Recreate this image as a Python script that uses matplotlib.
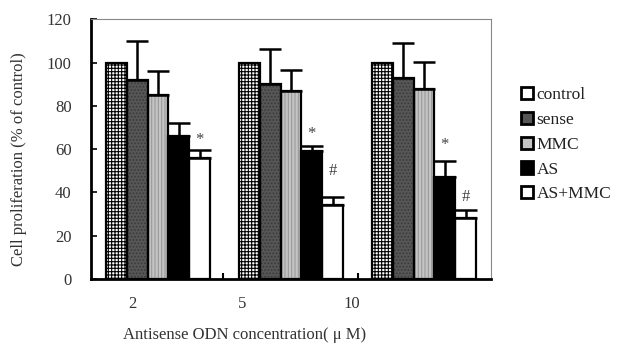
import matplotlib
matplotlib.use("Agg")
import matplotlib.pyplot as plt
from matplotlib.patches import Patch
import numpy as np

plt.rcParams['font.family'] = ['Liberation Serif', 'DejaVu Serif']
plt.rcParams['hatch.linewidth'] = 0.8

concentrations = ['2', '5', '10']
series = ['control', 'sense', 'MMC', 'AS', 'AS+MMC']
values = {
    'control': [100, 100, 100],
    'sense':   [92, 90, 93],
    'MMC':     [85, 87, 88],
    'AS':      [66, 59, 47],
    'AS+MMC':  [56, 34, 28],
}
errors = {
    'control': [0, 0, 0],
    'sense':   [18, 16.5, 16],
    'MMC':     [11, 9.5, 12.5],
    'AS':      [6, 2.5, 7.5],
    'AS+MMC':  [3.5, 4, 4],
}
marks = [  # (series, group index, symbol, y)
    ('AS+MMC', 0, '*', 64),
    ('AS', 1, '*', 67),
    ('AS+MMC', 1, '#', 50),
    ('AS', 2, '*', 62),
    ('AS+MMC', 2, '#', 38),
]

styles = {
    'control': dict(face='white', hatch='+++++', hcol='black'),
    'sense':   dict(face='#565656', hatch='.....', hcol='#3a3a3a'),
    'MMC':     dict(face='#c4c4c4', hatch='|||||', hcol='#9a9a9a'),
    'AS':      dict(face='black', hatch=None, hcol='black'),
    'AS+MMC':  dict(face='white', hatch=None, hcol='black'),
}

FS = 12

fig = plt.figure(figsize=(6.29, 3.5), dpi=100)
ax = fig.add_axes([91/629, 1-279/350, 400/629, (279-19.3)/350])

bw = 20.8
gstart = 15
gstep = 133
x_group = gstart + gstep*np.arange(len(concentrations))

for j, s in enumerate(series):
    xs = x_group + j*bw
    st = styles[s]
    ax.bar(xs, values[s], width=bw, align='edge', color=st['face'],
           hatch=st['hatch'], edgecolor=st['hcol'], linewidth=0, zorder=2)
    ax.bar(xs, values[s], width=bw, align='edge', fill=False,
           edgecolor='black', linewidth=1.6, zorder=3)
    err = np.array(errors[s])
    if err.any():
        ax.errorbar(xs + bw/2, values[s], yerr=[np.zeros_like(err), err],
                    fmt='none', ecolor='black', elinewidth=1.8, capsize=8,
                    capthick=1.8, zorder=4)

for s, g, sym, y in marks:
    j = series.index(s)
    ax.text(x_group[g] + j*bw + bw/2, y, sym, ha='center', va='center',
            fontsize=12, color='#444444', zorder=5)

ax.set_xlim(0, 400)
ax.set_ylim(0, 120)
ax.set_yticks(np.arange(0, 121, 20))
ax.tick_params(axis='y', direction='in', length=4, width=1.2, labelsize=FS, pad=14,
               labelcolor='#333333')
ax.set_xticks(41 + 110*np.arange(len(concentrations)))
ax.set_xticklabels(concentrations)
ax.tick_params(axis='x', length=0, labelsize=FS, pad=12, labelcolor='#333333')
ax.set_xticks([132, 267], minor=True)
ax.tick_params(axis='x', which='minor', direction='in', length=4, width=1.5)

for side in ['left', 'bottom']:
    ax.spines[side].set_linewidth(2)
for side in ['top', 'right']:
    ax.spines[side].set_linewidth(0.8)
    ax.spines[side].set_color('#888888')

ax.set_ylabel('Cell proliferation (% of control)', fontsize=FS, color='#333333')
ax.set_xlabel('Antisense ODN concentration( \u03bc M)', fontsize=FS, color='#333333')
ax.yaxis.set_label_coords(-0.16, 0.46)
ax.xaxis.set_label_coords(0.385, -0.185)

handles = [Patch(facecolor=styles[s]['face'], edgecolor='black', linewidth=2,
                 hatch=None) for s in series]
leg = fig.legend(handles, series, loc='upper left', bbox_to_anchor=(514/629, 1-80/350),
                 frameon=False, fontsize=FS + 0.5, handlelength=0.7, handleheight=0.7,
                 handletextpad=0.2, labelspacing=0.5, borderaxespad=0)
for t in leg.get_texts():
    t.set_color('#222222')

fig.savefig('out.png', dpi=100)
